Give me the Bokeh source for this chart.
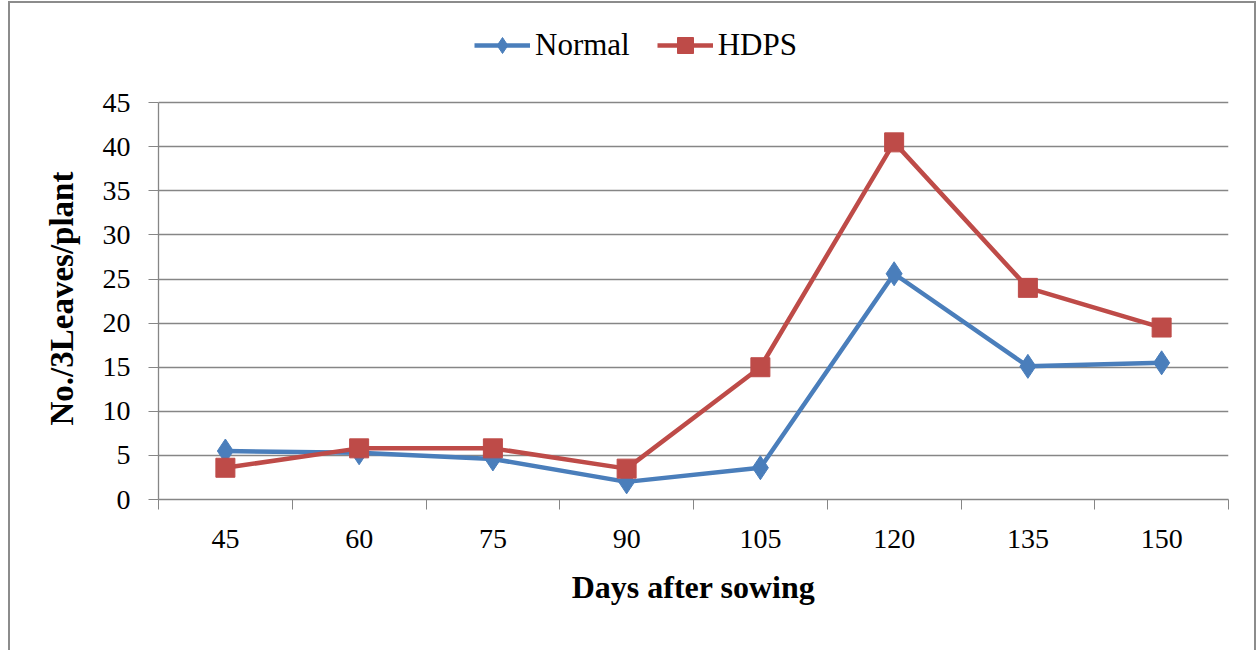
from bokeh.plotting import figure
from bokeh.layouts import column
from bokeh.models import FixedTicker, Range1d, Legend, LegendItem, Title
from bokeh.embed import file_html
from bokeh.resources import INLINE

days = ["45", "60", "75", "90", "105", "120", "135", "150"]
normal = [5.5, 5.3, 4.6, 2.0, 3.6, 25.6, 15.1, 15.5]
hdps = [3.6, 5.8, 5.8, 3.5, 15.0, 40.5, 24.0, 19.5]
y_ticks = [0, 5, 10, 15, 20, 25, 30, 35, 40, 45]

FONT = "Liberation Serif"
GRAY = "#868686"
BLUE = "#4A7EBB"
RED = "#BE4B48"

xs = [i + 0.5 for i in range(len(days))]

p = figure(width=1244, height=648, output_backend="svg", toolbar_location=None,
           x_range=Range1d(0, len(days)), y_range=Range1d(0, 55),
           frame_width=1070, frame_height=485,
           min_border_left=148, min_border_right=26, min_border_top=11, min_border_bottom=152)
p.outline_line_color = None
p.background_fill_color = "white"
p.border_fill_color = "white"

ln = p.line(xs, normal, line_color=BLUE, line_width=4.5)
mk = p.scatter(xs, normal, marker="diamond", size=24, fill_color=BLUE, line_color=BLUE)
lh = p.line(xs, hdps, line_color=RED, line_width=4.5)
mh = p.scatter(xs, hdps, marker="square", size=19, fill_color=RED, line_color=RED)

# x axis
xa = p.xaxis[0]
xa.ticker = FixedTicker(ticks=xs, minor_ticks=list(range(len(days) + 1)))
xa.major_label_overrides = {x: d for x, d in zip(xs, days)}
xa.major_tick_out = 0
xa.major_tick_in = 0
xa.minor_tick_out = 10
xa.minor_tick_in = 0
xa.minor_tick_line_color = GRAY
xa.axis_line_color = GRAY
xa.axis_line_width = 1.3
xa.major_label_text_font = FONT
xa.major_label_text_font_size = "28px"
xa.major_label_text_color = "black"
xa.major_label_standoff = 20
xa.axis_label = "Days after sowing"
xa.axis_label_text_font = FONT
xa.axis_label_text_font_style = "bold"
xa.axis_label_text_font_size = "32px"
xa.axis_label_text_color = "black"
xa.axis_label_standoff = 18

# y axis
ya = p.yaxis[0]
ya.ticker = FixedTicker(ticks=y_ticks)
ya.bounds = (0, 45)
ya.major_tick_out = 10
ya.major_tick_in = 0
ya.minor_tick_out = 0
ya.minor_tick_in = 0
ya.major_tick_line_color = GRAY
ya.axis_line_color = GRAY
ya.axis_line_width = 1.3
ya.major_label_text_font = FONT
ya.major_label_text_font_size = "28px"
ya.major_label_text_color = "black"
ya.major_label_standoff = 18

ytitle = Title(text="No./3Leaves/plant", align="left", offset=74, standoff=40,
               text_font=FONT, text_font_style="bold", text_font_size="33px",
               text_color="black")
p.add_layout(ytitle, "left")

p.xgrid.grid_line_color = None
p.ygrid.ticker = FixedTicker(ticks=y_ticks)
p.ygrid.grid_line_color = GRAY
p.ygrid.grid_line_width = 1.3

legend = Legend(items=[LegendItem(label="Normal", renderers=[ln, mk]),
                       LegendItem(label="HDPS", renderers=[lh, mh])],
                orientation="horizontal", location=(316, 434),
                label_text_font=FONT, label_text_font_size="31px",
                label_text_color="black",
                glyph_width=56, glyph_height=40, label_height=40,
                label_standoff=5, spacing=27, padding=0, margin=0,
                border_line_color=None, background_fill_alpha=0)
p.add_layout(legend, "center")

root = column(p, styles={"margin-left": "8px", "margin-top": "1px",
                         "border": "2px solid #8C8C8C"})

open("out.html", "w").write(file_html(root, INLINE))
